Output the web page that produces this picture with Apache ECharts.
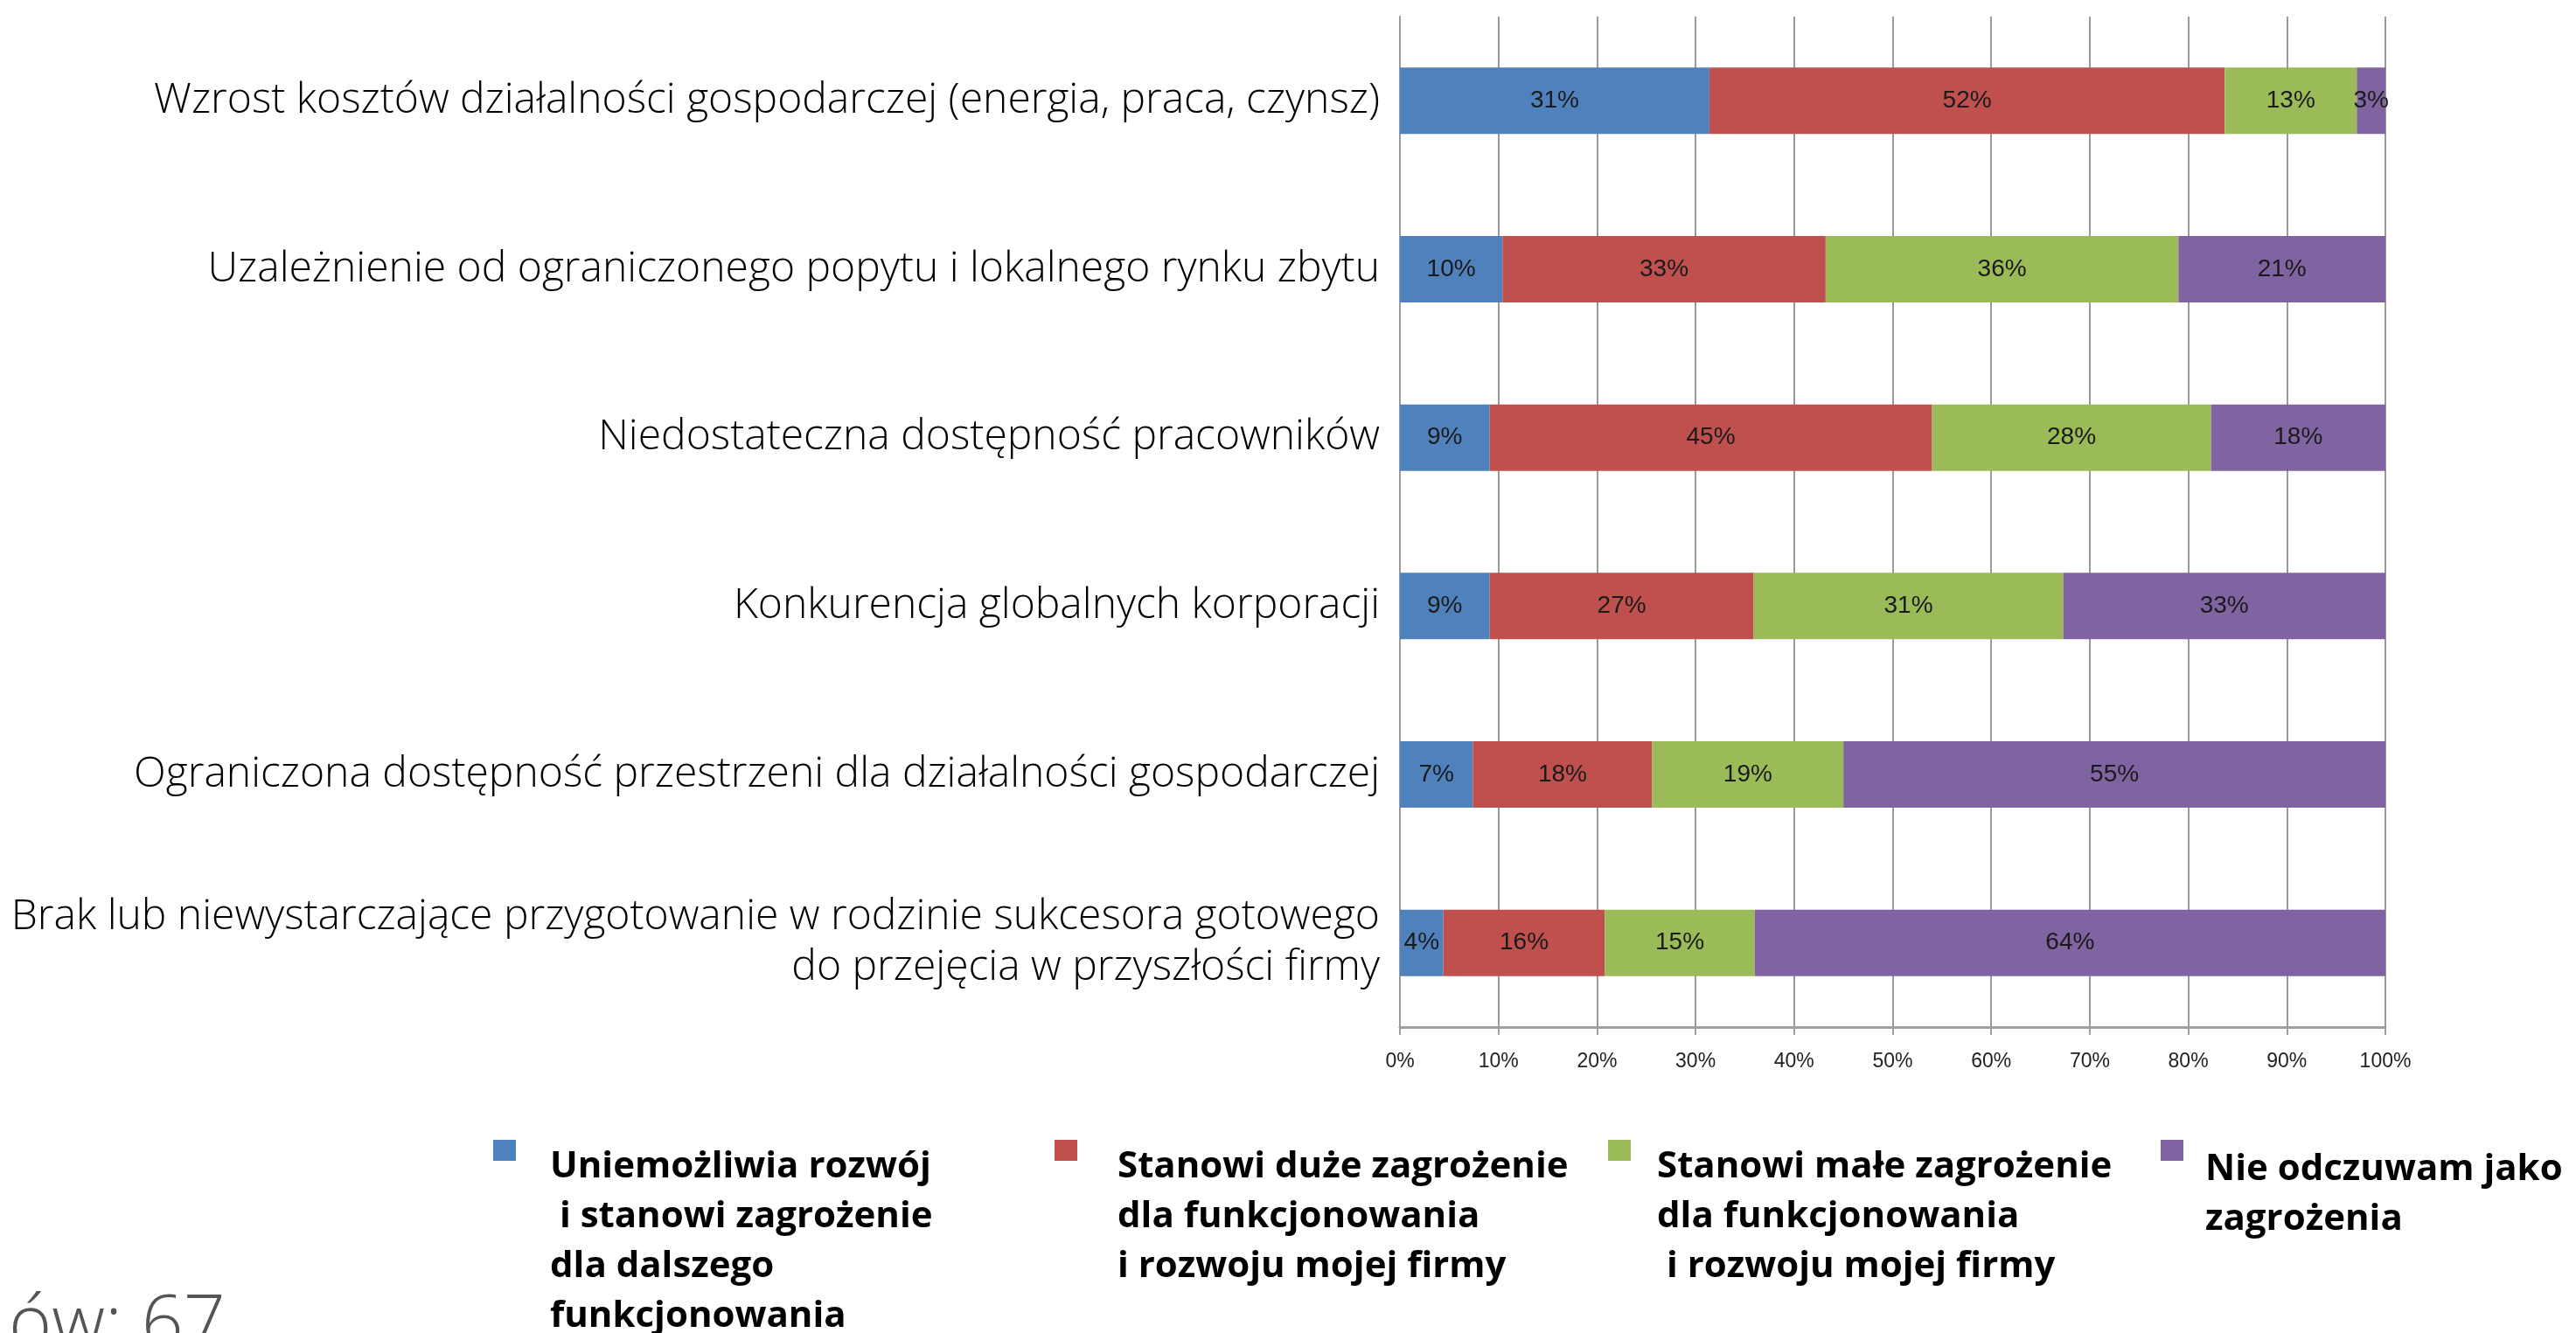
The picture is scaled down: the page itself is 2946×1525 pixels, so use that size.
<!DOCTYPE html>
<html>
<head>
<meta charset="utf-8">
<script src="https://cdn.jsdelivr.net/npm/echarts@6/dist/echarts.min.js"></script>
<style>
html,body{margin:0;padding:0;background:#fff;}
#chart{width:2946px;height:1525px;}
</style>
</head>
<body>
<div id="chart"></div>
<script>
const categories = [
  'Wzrost kosztów działalności gospodarczej (energia, praca, czynsz)',
  'Uzależnienie od ograniczonego popytu i lokalnego rynku zbytu',
  'Niedostateczna dostępność pracowników',
  'Konkurencja globalnych korporacji',
  'Ograniczona dostępność przestrzeni dla działalności gospodarczej',
  'Brak lub niewystarczające przygotowanie w rodzinie sukcesora gotowego\ndo przejęcia w przyszłości firmy'
];
const seriesNames = [
  'Uniemożliwia rozwój\n i stanowi zagrożenie\ndla dalszego\nfunkcjonowania',
  'Stanowi duże zagrożenie\ndla funkcjonowania\ni rozwoju mojej firmy',
  'Stanowi małe zagrożenie\ndla funkcjonowania\n i rozwoju mojej firmy',
  'Nie odczuwam jako\nzagrożenia'
];
const blocksDevelopment = [31.4, 10.4, 9.1, 9.1, 7.4, 4.4];
const bigThreat = [52.3, 32.8, 44.9, 26.8, 18.2, 16.4];
const smallThreat = [13.4, 35.8, 28.3, 31.4, 19.4, 15.2];
const noThreat = [2.9, 21.0, 17.7, 32.7, 55.0, 64.0];
const colors = ['#4F81BD', '#C0504D', '#9BBB59', '#8064A2'];
const footnote = 'ów: 67';

const chart = echarts.init(document.getElementById('chart'));
const values = [blocksDevelopment, bigThreat, smallThreat, noThreat];

const L = 57;
function legendFor(i, left, lines, d, padLeft) {
  // icon box is tall; the visible square sits at its top so it lines up with the first text line
  const H = (lines - 1) * L + 24 + 2 * d;
  const textTop = H / 2 - lines * L / 2;
  const top = 1304 + Math.min(0, textTop);
  return {
    data: [{
      name: seriesNames[i],
      icon: 'path://M0,0L26,0L26,24L0,24Z M0,' + H + 'L0.01,' + H
    }],
    left: left,
    top: top,
    orient: 'vertical',
    padding: 0,
    itemWidth: 26,
    itemHeight: H,
    selectedMode: false,
    textStyle: {
      fontFamily: '"Open Sans", sans-serif',
      fontWeight: 'bold',
      fontSize: 42,
      lineHeight: L,
      color: '#000',
      padding: [0, 0, 0, padLeft]
    }
  };
}

const option = {
  animation: false,
  color: colors,
  grid: { left: 1601, right: 218, top: 19, bottom: 350, containLabel: false },
  legend: [
    legendFor(0, 564, 4, 19, 34),
    legendFor(1, 1206, 3, 19, 41),
    legendFor(2, 1839, 3, 19, 25),
    legendFor(3, 2471, 2, 22, 20)
  ],
  xAxis: {
    type: 'value',
    min: 0,
    max: 100,
    interval: 10,
    axisLine: { show: true, lineStyle: { color: '#a0a0a0', width: 3 } },
    axisTick: { show: true, length: 9, lineStyle: { color: '#a0a0a0', width: 2 } },
    splitLine: { show: true, lineStyle: { color: '#9a9a9a', width: 2 } },
    axisLabel: {
      formatter: '{value}%',
      fontFamily: '"Liberation Sans", sans-serif',
      fontSize: 23,
      color: '#222',
      margin: 28
    }
  },
  yAxis: {
    type: 'category',
    inverse: true,
    data: categories,
    axisLine: { show: true, lineStyle: { color: '#9a9a9a', width: 2 } },
    axisTick: { show: false },
    axisLabel: {
      fontFamily: '"Open Sans", sans-serif',
      fontWeight: 300,
      fontSize: 48,
      lineHeight: 58,
      color: '#000',
      margin: 23,
      align: 'right',
      padding: [6, 0, 0, 0]
    }
  },
  series: values.map((v, i) => ({
    name: seriesNames[i],
    type: 'bar',
    stack: 'total',
    barWidth: 76,
    data: v,
    itemStyle: { color: colors[i] },
    label: {
      show: true,
      position: 'inside',
      formatter: p => Math.round(p.value) + '%',
      fontFamily: '"Liberation Sans", sans-serif',
      fontSize: 28,
      color: '#1a1a1a'
    }
  })),
  graphic: [{
    type: 'text',
    left: 10,
    top: 1476,
    style: {
      text: footnote,
      font: '300 84px "Open Sans", sans-serif',
      fill: '#555'
    }
  }]
};
chart.setOption(option);
</script>
</body>
</html>
